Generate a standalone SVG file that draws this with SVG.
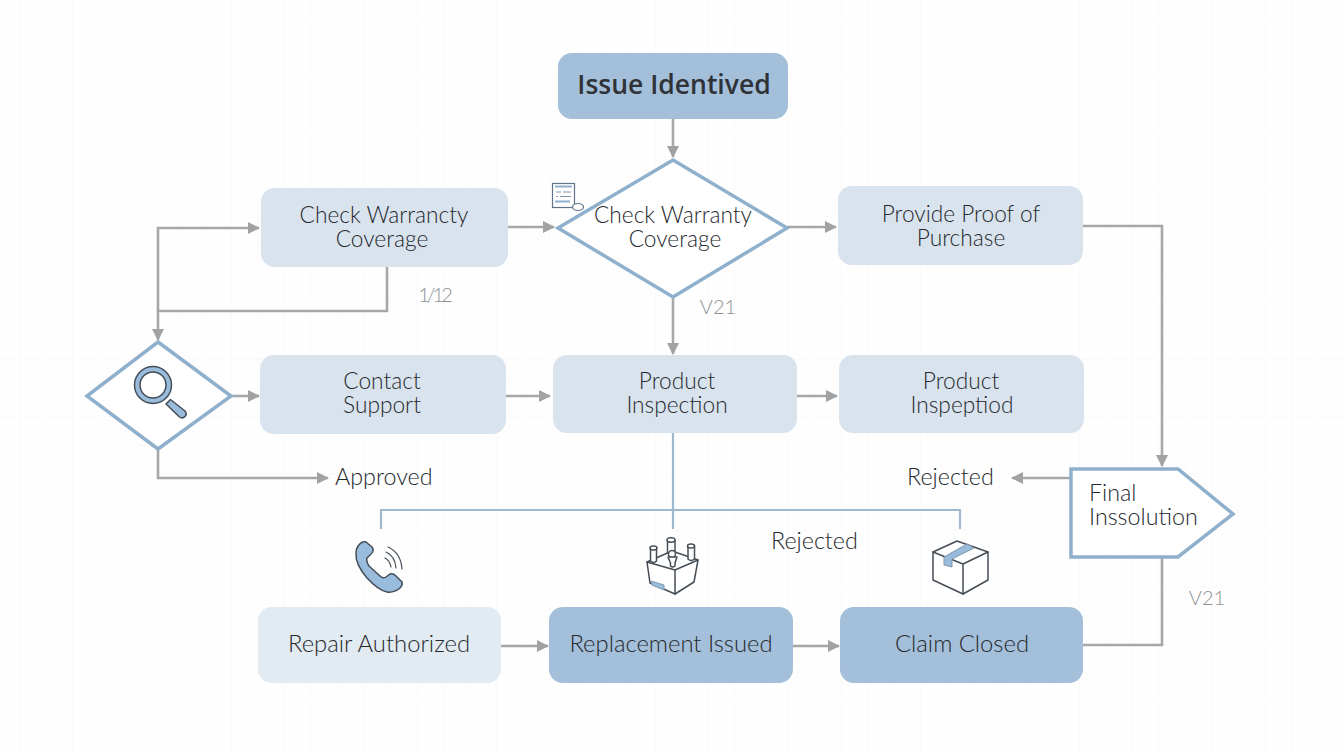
<svg xmlns="http://www.w3.org/2000/svg" width="1344" height="752" viewBox="0 0 1344 752">
<style>
.t{font-family:"Lato","Liberation Sans",sans-serif;font-size:22.700px;font-weight:300;fill:#25292d;text-anchor:middle}
.m{font-size:23.800px}
.l{text-anchor:start;font-size:23.300px}
.g{font-size:20px;fill:#8f9295}
.lt{fill:#d9e3ed}.pale{fill:#e2eaf2}.dk{fill:#a4bfda}
.dia{fill:#fff;stroke:#8fb0cc;stroke-width:3.5;stroke-linejoin:miter}
.c{fill:none;stroke:#a5a7a9;stroke-width:2.6}
.b{fill:none;stroke:#9db8cf;stroke-width:2.2}
.ic{stroke:#454d56;stroke-width:1.500;stroke-linejoin:round;stroke-linecap:round}
.f{fill:#fff}.bl{fill:#9abcdc}.nf{fill:none}
</style>
<defs>
<marker id="a" viewBox="0 0 12 12" refX="11" refY="6" markerWidth="12" markerHeight="12" markerUnits="userSpaceOnUse" orient="auto"><path d="M0 0L12 6L0 12Z" fill="#a0a2a4"/></marker>
<pattern id="grid" width="26.500" height="28.500" patternUnits="userSpaceOnUse" x="20" y="18"><path d="M26.500 0V28.500H0" fill="none" stroke="#f5f6f7" stroke-width="1"/></pattern>
</defs>
<rect width="1344" height="752" fill="#fefefe"/>
<rect width="1344" height="752" fill="url(#grid)"/>
<g id="connectors">
<path class="c" d="M673 119V157" marker-end="url(#a)"/>
<path class="c" d="M508 227H554" marker-end="url(#a)"/>
<path class="c" d="M787 227H836" marker-end="url(#a)"/>
<path class="c" d="M1083 226H1162V466" marker-end="url(#a)"/>
<path class="c" d="M673 298V354" marker-end="url(#a)"/>
<path class="c" d="M387 267V311H158V340" marker-end="url(#a)"/>
<path class="c" d="M158 311V228H259" marker-end="url(#a)"/>
<path class="c" d="M232 396H259" marker-end="url(#a)"/>
<path class="c" d="M506 396H550" marker-end="url(#a)"/>
<path class="c" d="M797 396H837" marker-end="url(#a)"/>
<path class="c" d="M158 450V478H328" marker-end="url(#a)"/>
<path class="c" d="M1070 478H1012" marker-end="url(#a)"/>
<path class="c" d="M501 646H548" marker-end="url(#a)"/>
<path class="c" d="M793 646H839" marker-end="url(#a)"/>
<path class="c" d="M1083 645H1162V558"/>
<path class="b" d="M673 433V529"/>
<path class="b" d="M381 529V510H960V529"/>
</g>
<g id="issue"><rect x="558" y="53" width="230" height="66" rx="14" class="dk"/><text class="t" x="674" y="94" style="font-family:'Open Sans','Noto Sans',sans-serif;font-size:26.500px;font-weight:600;fill:#2f3338">Issue Identived</text></g>
<g id="warranty-box"><rect x="261" y="188" width="247" height="79" rx="14" class="lt"/><text class="t" x="384" y="223">Check Warrancty</text><text class="t" x="382" y="247">Coverage</text></g>
<g id="warranty-dec"><path class="dia" d="M673 160L787 228L673 297L558 228Z"/><text class="t" x="673" y="223">Check Warranty</text><text class="t" x="675" y="247">Coverage</text></g>
<g id="doc-icon"><rect x="552.500" y="183.500" width="22" height="24" fill="#fff" stroke="#5f7488" stroke-width="1.200"/><path d="M555 186.500H572M555 201.500H570" stroke="#8fb0cc" stroke-width="2"/><path d="M556 192H561M563 192H571M556 196.500H558M560 196.500H571" stroke="#7f97ad" stroke-width="1.200"/><ellipse cx="578" cy="207" rx="5.500" ry="3.500" fill="#fff" stroke="#5f7488" stroke-width="1.200"/></g>
<g id="proof"><rect x="838" y="186" width="245" height="79" rx="14" class="lt"/><text class="t" x="961" y="222">Provide Proof of</text><text class="t" x="961" y="246">Purchase</text></g>
<text class="t g" x="434" y="302" style="letter-spacing:-3px">1/12</text>
<text class="t g" x="718" y="314">V21</text>
<g id="search-dec"><path class="dia" d="M158 342L231 396L158 449L87 396Z"/>
<path class="ic bl" d="M166 404L170.500 399.500L185 411Q187.500 414 185 416.500Q182.500 419 179.500 417Z"/><circle class="ic bl" cx="153" cy="385" r="18.500"/><circle class="ic f" cx="153" cy="385" r="13"/></g>
<g id="contact"><rect x="260" y="355" width="246" height="79" rx="14" class="lt"/><text class="t" x="382" y="389">Contact</text><text class="t" x="382" y="413">Support</text></g>
<g id="inspection"><rect x="553" y="355" width="244" height="78" rx="14" class="lt"/><text class="t" x="677" y="389">Product</text><text class="t" x="677" y="413">Inspection</text></g>
<g id="inspeptiod"><rect x="839" y="355" width="245" height="78" rx="14" class="lt"/><text class="t" x="961" y="389">Product</text><text class="t" x="962" y="413">Inspeptiod</text></g>
<text class="t l" x="335" y="485">Approved</text>
<text class="t l" x="907" y="485">Rejected</text>
<text class="t l" x="771" y="549">Rejected</text>
<g id="final"><path class="dia" d="M1071 469H1178L1233 514L1178 557H1071Z"/><text class="t l" x="1089" y="501">Final</text><text class="t l" x="1089" y="525">Inssolution</text></g>
<text class="t g" x="1207" y="605">V21</text>
<g id="phone-icon"><path class="ic bl" d="M358 546Q362 541 366 542L372 547Q375 551 370 555L367 558Q366 561 369 566L380 576Q383 579 386 577L390 574Q393 573 396 576L402 582Q403 585 400 588Q394 593 387 592Q378 590 367 578Q355 564 356 553Q356 549 358 546Z"/><path class="ic nf" style="stroke-width:1.200" d="M385 558Q390 561 391 567M386 552Q395 556 396 568M388 547Q401 553 402 569"/></g>
<g id="parts-icon"><path class="ic f" d="M647 562L672 551L698 560L694 582L675 594L650 583Z"/><path class="ic nf" d="M647 562L675 570L698 560M675 570V594"/><path d="M651 581L664 585V590L652 585Z" fill="#9abcdc" stroke="#7f97ad"/>
<path class="ic f" d="M650.500 548V561Q653.500 564 656.500 561V548"/><ellipse class="ic f" cx="653.500" cy="548" rx="3.500" ry="2"/>
<path class="ic f" d="M667.500 540V553Q671 556 675 553V540"/><ellipse class="ic f" cx="671" cy="540" rx="4" ry="2.200"/>
<path class="ic f" d="M688 546V559Q691 562 694.500 559V546"/><ellipse class="ic f" cx="691" cy="546" rx="3.500" ry="2"/>
<circle class="ic f" cx="672" cy="554" r="3.500"/><path class="ic f" d="M668 557H677L675 563V566Q672.500 568 670.500 566V563Z"/></g>
<g id="box-icon"><path class="ic f" d="M933 552L957 541L988 552V580L963 594L933 580Z"/><path class="ic nf" d="M933 552L963 564L988 552M963 564V594"/><path fill="#9abcdc" stroke="#7f97ad" d="M944 557L967 544L974 548L952 559V567L944 565Z"/></g>
<g id="repair"><rect x="258" y="607" width="243" height="76" rx="14" class="pale"/><text class="t m" x="379" y="652">Repair Authorized</text></g>
<g id="replacement"><rect x="549" y="607" width="244" height="76" rx="14" class="dk"/><text class="t m" x="671" y="652">Replacement Issued</text></g>
<g id="closed"><rect x="840" y="607" width="243" height="76" rx="14" class="dk"/><text class="t m" x="962" y="652">Claim Closed</text></g>
</svg>
